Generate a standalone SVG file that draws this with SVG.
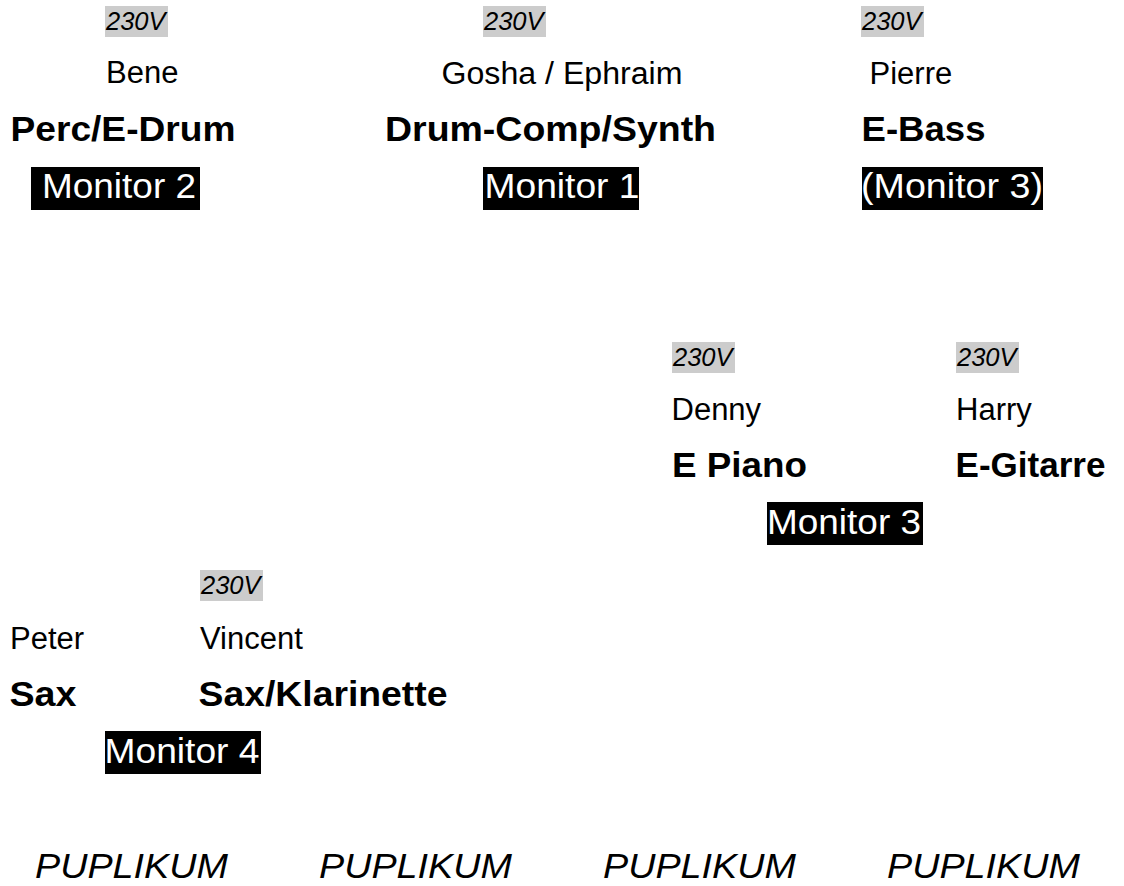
<svg xmlns="http://www.w3.org/2000/svg" width="1124" height="886" viewBox="0 0 1124 886">
<style>
text{font-family:"Liberation Sans",Arial,sans-serif;fill:#000}
.v{font-size:25.5px;font-style:italic}
.vb{fill:#cccccc}
.n{font-size:31px}
.b{font-size:35.5px;font-weight:bold}
.mb{fill:#000}
.m{font-size:35px;fill:#fff}
.p{font-size:35px;font-style:italic}
</style>
<rect width="1124" height="886" fill="#fff"/>
<g id="bene">
<rect class="vb" x="105" y="6" width="63" height="31"/>
<text class="v" x="106" y="30">230V</text>
<text class="n" x="106" y="83">Bene</text>
<text class="b" x="10.5" y="141" textLength="225" lengthAdjust="spacingAndGlyphs">Perc/E-Drum</text>
<rect class="mb" x="31" y="167" width="169" height="43"/>
<text class="m" x="42" y="198" textLength="154" lengthAdjust="spacingAndGlyphs">Monitor 2</text>
</g>
<g id="gosha">
<rect class="vb" x="483" y="6" width="63" height="31"/>
<text class="v" x="484" y="30">230V</text>
<text class="n" x="441.5" y="84" textLength="241" lengthAdjust="spacingAndGlyphs">Gosha / Ephraim</text>
<text class="b" x="385" y="141" textLength="331" lengthAdjust="spacingAndGlyphs">Drum-Comp/Synth</text>
<rect class="mb" x="483" y="167" width="156" height="43"/>
<text class="m" x="484.5" y="198" textLength="155" lengthAdjust="spacingAndGlyphs">Monitor 1</text>
</g>
<g id="pierre">
<rect class="vb" x="861" y="6" width="63" height="31"/>
<text class="v" x="862" y="30">230V</text>
<text class="n" x="869.5" y="84">Pierre</text>
<text class="b" x="861.5" y="141" textLength="124" lengthAdjust="spacingAndGlyphs">E-Bass</text>
<rect class="mb" x="862" y="167" width="181" height="43"/>
<text class="m" x="861" y="198" textLength="182" lengthAdjust="spacingAndGlyphs">(Monitor 3)</text>
</g>
<g id="denny">
<rect class="vb" x="672" y="342" width="63" height="31"/>
<text class="v" x="673" y="366">230V</text>
<text class="n" x="671.5" y="420">Denny</text>
<text class="b" x="672" y="477" textLength="135" lengthAdjust="spacingAndGlyphs">E Piano</text>
</g>
<g id="harry">
<rect class="vb" x="956" y="342" width="63" height="31"/>
<text class="v" x="957" y="366">230V</text>
<text class="n" x="956" y="420">Harry</text>
<text class="b" x="955.5" y="477" textLength="150" lengthAdjust="spacingAndGlyphs">E-Gitarre</text>
</g>
<g id="monitor3">
<rect class="mb" x="767" y="502" width="156" height="43"/>
<text class="m" x="767" y="533.5" textLength="154" lengthAdjust="spacingAndGlyphs">Monitor 3</text>
</g>
<g id="peter">
<text class="n" x="10" y="649">Peter</text>
<text class="b" x="9.5" y="706" textLength="67" lengthAdjust="spacingAndGlyphs">Sax</text>
</g>
<g id="vincent">
<rect class="vb" x="200" y="570" width="63" height="31"/>
<text class="v" x="201" y="594">230V</text>
<text class="n" x="200" y="649">Vincent</text>
<text class="b" x="198.5" y="706" textLength="249" lengthAdjust="spacingAndGlyphs">Sax/Klarinette</text>
</g>
<g id="monitor4">
<rect class="mb" x="105" y="731" width="156" height="43"/>
<text class="m" x="104.5" y="762.5" textLength="155" lengthAdjust="spacingAndGlyphs">Monitor 4</text>
</g>
<g id="publikum">
<text class="p" x="35" y="878" textLength="193" lengthAdjust="spacingAndGlyphs">PUPLIKUM</text>
<text class="p" x="319" y="878" textLength="193" lengthAdjust="spacingAndGlyphs">PUPLIKUM</text>
<text class="p" x="603" y="878" textLength="193" lengthAdjust="spacingAndGlyphs">PUPLIKUM</text>
<text class="p" x="887" y="878" textLength="193" lengthAdjust="spacingAndGlyphs">PUPLIKUM</text>
</g>
<g id="connectors"></g>
</svg>
